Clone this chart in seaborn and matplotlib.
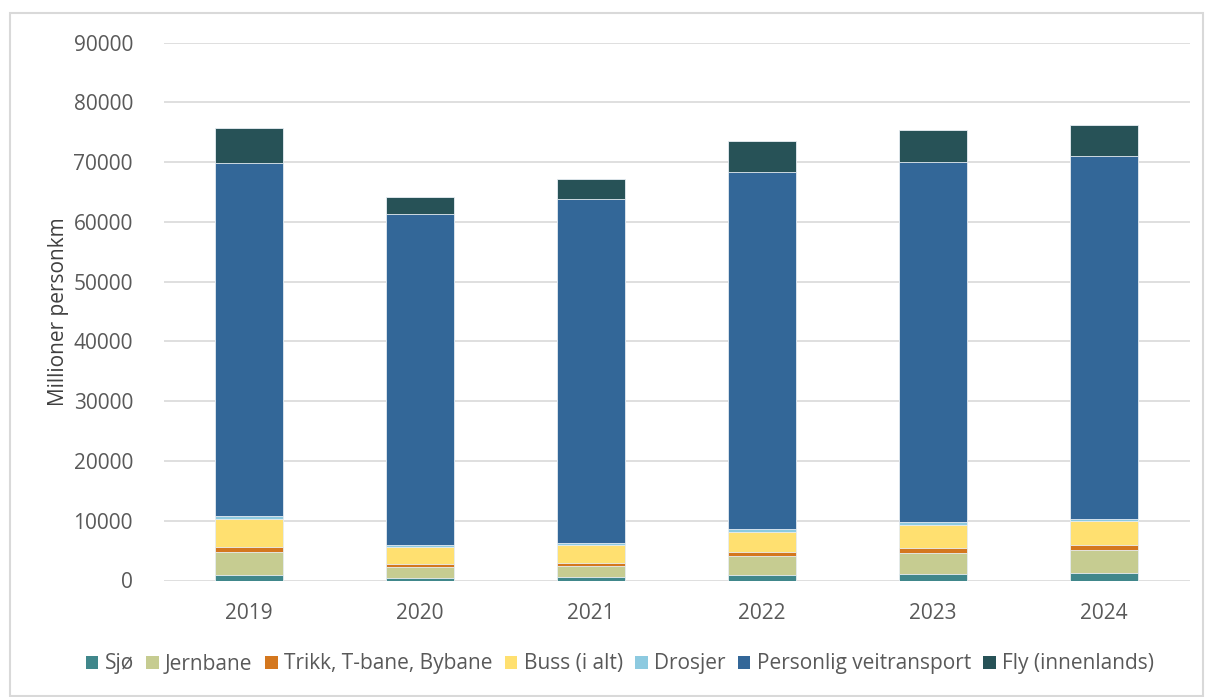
import numpy as np
import pandas as pd
import matplotlib
matplotlib.use("Agg")
import matplotlib.pyplot as plt
from matplotlib.patches import Patch, Rectangle
import seaborn as sns

years = ["2019", "2020", "2021", "2022", "2023", "2024"]
series_names = ["Sjø", "Jernbane", "Trikk, T-bane, Bybane", "Buss (i alt)",
                "Drosjer", "Personlig veitransport", "Fly (innenlands)"]

sjo = [920, 470, 590, 970, 1140, 1310]
jernbane = [3800, 1790, 1890, 3180, 3460, 3840]
trikk = [880, 550, 450, 670, 890, 840]
buss = [4640, 2790, 3010, 3350, 3850, 3920]
drosjer = [550, 290, 340, 400, 400, 380]
personlig = [59120, 55390, 57520, 59830, 60340, 60740]
fly = [5760, 2840, 3330, 5100, 5300, 5190]

colors = ["#40878B", "#C6CC91", "#D4771E", "#FFE070", "#8DCAE0", "#336798", "#275257"]

values = [sjo, jernbane, trikk, buss, drosjer, personlig, fly]
df = pd.DataFrame({name: vals for name, vals in zip(series_names, values)}, index=years)
cum = df.cumsum(axis=1)

sns.set_theme(style="white")
plt.rcParams["font.family"] = ["Open Sans", "DejaVu Sans"]

fig = plt.figure(figsize=(12.06, 6.97), dpi=100)
ax = fig.add_axes([163.5 / 1206, 1 - 580.5 / 697, (1189.5 - 163.5) / 1206, (580.5 - 42.7) / 697])

# stacked bars: draw cumulative totals from the top series downwards
for name, color in zip(reversed(series_names), reversed(colors)):
    sns.barplot(x=years, y=cum[name].values, color=color, width=0.4,
                edgecolor="#E8EEF3", linewidth=0.6, saturation=1, ax=ax, zorder=3)

ax.set_ylim(0, 90000)
ax.set_yticks(np.arange(0, 90001, 10000))
ax.yaxis.grid(True, color="#D9D9D9", linewidth=1.2, zorder=0)
ax.set_axisbelow(True)
for s in ax.spines.values():
    s.set_visible(False)
ax.tick_params(axis="both", length=0, labelsize=15, colors="#595959")
ax.tick_params(axis="x", pad=16)
ax.tick_params(axis="y", pad=22)
ax.set_xlabel("")
ax.set_ylabel("Millioner personkm", fontsize=15, color="#404040")
ax.yaxis.set_label_coords(-0.092, 0.5)

handles = [Patch(facecolor=c, edgecolor="none", label=n) for n, c in zip(series_names, colors)]
fig.legend(handles=handles, loc="center", bbox_to_anchor=(620 / 1206, 1 - 664 / 697), ncol=7,
           frameon=False, fontsize=15, handlelength=0.6, handleheight=0.6,
           handletextpad=0.3, columnspacing=0.6, labelcolor="#595959")

# chart-area border
fig.patches.append(Rectangle((10 / 1206, 1 / 697), 1193 / 1206, 683 / 697,
                             transform=fig.transFigure, fill=False,
                             edgecolor="#D9D9D9", linewidth=1.5))

fig.savefig("out.png", dpi=100)
